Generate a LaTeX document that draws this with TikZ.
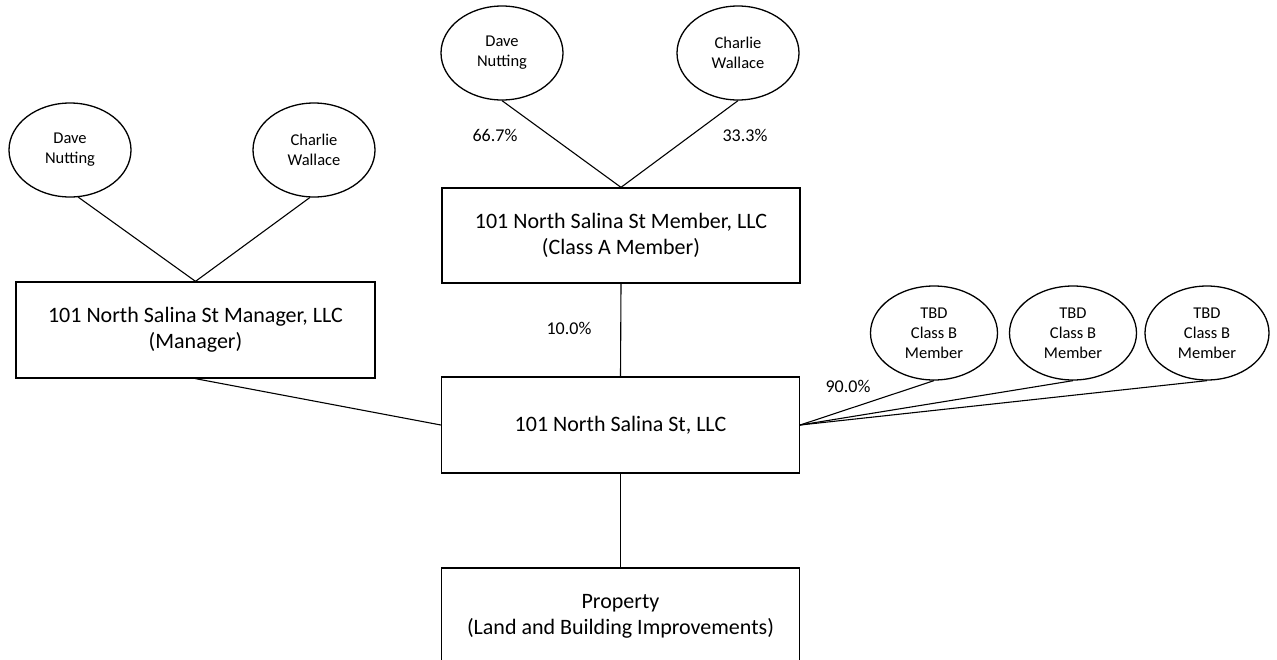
\documentclass[tikz,border=0pt]{standalone}
\usepackage{fontspec}
\setmainfont{Carlito}
\usetikzlibrary{shapes.geometric}
\begin{document}
\begin{tikzpicture}[x=1pt,y=-1pt,
  person/.style={draw, ellipse, line width=1.3pt, minimum width=122pt, minimum height=94pt, inner sep=0pt, align=center, font=\fontsize{16.5}{20}\selectfont},
  entity/.style={draw, rectangle, line width=1.3pt, minimum width=358pt, minimum height=96pt, inner sep=0pt, align=center, font=\fontsize{22}{26}\selectfont},
  link/.style={line width=1.1pt},
  pct/.style={font=\fontsize{18}{20}\selectfont, inner sep=0pt}]
\useasboundingbox (0,0) rectangle (1277,659);
\clip (0,0) rectangle (1277,659);
% left owners
\node[person] (d1) at (70,150) {Dave\\Nutting};
\node[person] (c1) at (314,150) {Charlie\\Wallace};
\node[entity, minimum width=359pt] (mgr) at (195.5,330) {101 North Salina St Manager, LLC\\(Manager)};
% top owners
\node[person] (d2) at (502,53) {Dave\\Nutting};
\node[person] (c2) at (738,53) {Charlie\\Wallace};
\node[entity, minimum height=95pt] (mem) at (621,235.5) {101 North Salina St Member, LLC\\(Class A Member)};
% main
\node[entity] (main) at (620.5,425) {101 North Salina St, LLC};
\node[entity] (prop) at (620.5,616) {Property\\(Land and Building Improvements)};
% class B
\node[person, minimum width=127pt] (t1) at (934,333) {TBD\\Class B\\Member};
\node[person, minimum width=127pt] (t2) at (1073,333) {TBD\\Class B\\Member};
\node[person, minimum width=124pt] (t3) at (1207,333) {TBD\\Class B\\Member};
% connectors
\draw[link] (d1.-80) -- (mgr.north);
\draw[link] (c1.-95) -- (mgr.north);
\draw[link] (d2.south) -- (mem.north);
\draw[link] (c2.south) -- (mem.north);
\draw[link] (mem.south) -- (main.north);
\draw[link] (mgr.south) -- (main.west);
\draw[link] (main.south) -- (prop.north);
\draw[link] (main.east) -- (t1.south);
\draw[link] (main.east) -- (t2.south);
\draw[link] (main.east) -- (t3.south);
% labels
\node[pct] (p1) at (495,135) {66.7\%};
\node[pct] (p2) at (745,135) {33.3\%};
\node[pct] (p3) at (569,328) {10.0\%};
\node[pct] (p4) at (848,386) {90.0\%};
\end{tikzpicture}
\end{document}
